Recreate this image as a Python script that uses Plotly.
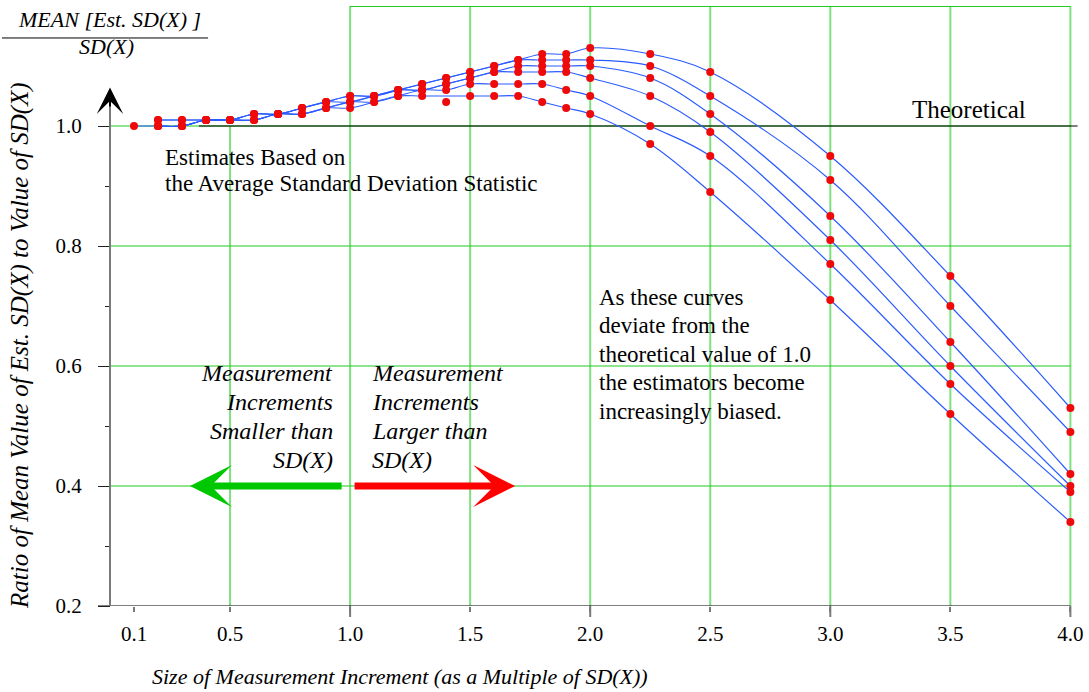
import plotly.graph_objects as go

# ---------------- data ----------------
X = [0.1, 0.2, 0.3, 0.4, 0.5, 0.6, 0.7, 0.8, 0.9, 1.0, 1.1, 1.2, 1.3, 1.4, 1.5,
     1.6, 1.7, 1.8, 1.9, 2.0, 2.25, 2.5, 3.0, 3.5, 4.0]
N = None
curve_a = [N, 1.01, 1.01, 1.01, 1.01, 1.02, 1.02, 1.03, 1.04, 1.05, 1.05, 1.06, 1.07, 1.08, 1.09,
           1.10, 1.11, 1.12, 1.12, 1.13, 1.12, 1.09, 0.95, 0.75, 0.53]
curve_b = [N, 1.01, 1.01, 1.01, 1.01, 1.02, 1.02, 1.03, 1.04, 1.05, 1.05, 1.06, 1.07, 1.08, 1.09,
           1.10, 1.11, 1.11, 1.11, 1.11, 1.10, 1.05, 0.91, 0.70, 0.49]
curve_c = [N, 1.00, 1.00, 1.01, 1.01, 1.02, 1.02, 1.03, 1.04, 1.04, 1.05, 1.06, 1.06, 1.07, 1.08,
           1.09, 1.10, 1.10, 1.10, 1.10, 1.08, 1.02, 0.85, 0.64, 0.42]
curve_d = [N, 1.00, 1.00, 1.01, 1.01, 1.01, 1.02, 1.02, 1.03, 1.04, 1.05, 1.06, 1.06, 1.07, 1.08,
           1.09, 1.09, 1.09, 1.09, 1.08, 1.05, 0.99, 0.81, 0.60, 0.40]
curve_e = [N, 1.00, 1.00, 1.01, 1.01, 1.01, 1.02, 1.02, 1.03, 1.04, 1.04, 1.05, 1.06, 1.06, 1.07,
           1.07, 1.07, 1.07, 1.06, 1.05, 1.00, 0.95, 0.77, 0.57, 0.39]
curve_f = [1.00, 1.00, 1.00, 1.01, 1.01, 1.01, 1.02, 1.02, 1.03, 1.03, 1.04, 1.05, 1.05, N, 1.05,
           1.05, 1.05, 1.04, 1.03, 1.02, 0.97, 0.89, 0.71, 0.52, 0.34]
curves = [curve_a, curve_b, curve_c, curve_d, curve_e, curve_f]

extra_x = [1.4]
extra_y = [1.04]

x_tick_vals = [0.1, 0.5, 1.0, 1.5, 2.0, 2.5, 3.0, 3.5, 4.0]
x_tick_text = ["0.1", "0.5", "1.0", "1.5", "2.0", "2.5", "3.0", "3.5", "4.0"]
x_long_ticks = [1.0, 2.0, 3.0, 4.0]
y_tick_vals = [0.2, 0.4, 0.6, 0.8, 1.0]
y_tick_text = ["0.2", "0.4", "0.6", "0.8", "1.0"]
y_minor_vals = [0.3, 0.5, 0.7, 0.9]

v_grid_full = [1.0, 1.5, 2.0, 2.5, 3.0, 3.5, 4.0]
v_grid_short = [0.5]
h_grid = [0.4, 0.6, 0.8, 1.0]
theoretical = 1.0

# ---------------- styles ----------------
FONT = "Liberation Serif"
BLUE = "#2a5cff"
RED = "#ee0a0a"
GRID_V = "#7fe07f"
GRID_H = "#1fcc1f"
X_MIN, X_MAX = -0.05, 4.04
Y_MIN, Y_MAX = 0.2, 1.2

fig = go.Figure()

for cy in curves:
    fig.add_trace(go.Scatter(x=X, y=cy, mode="lines", connectgaps=True,
                             line=dict(color=BLUE, width=1.2, shape="spline", smoothing=1.0),
                             hoverinfo="skip"))
for cy in curves:
    xs = [x for x, v in zip(X, cy) if v is not None]
    ys = [v for v in cy if v is not None]
    fig.add_trace(go.Scatter(x=xs, y=ys, mode="markers",
                             marker=dict(color=RED, size=8, line=dict(width=0))))
fig.add_trace(go.Scatter(x=extra_x, y=extra_y, mode="markers",
                         marker=dict(color=RED, size=8, line=dict(width=0))))

shapes = []
for v in v_grid_full:
    shapes.append(dict(type="line", xref="x", yref="y", x0=v, x1=v, y0=Y_MIN, y1=Y_MAX,
                       line=dict(color=GRID_V, width=2), layer="below"))
for v in v_grid_short:
    shapes.append(dict(type="line", xref="x", yref="y", x0=v, x1=v, y0=Y_MIN, y1=theoretical,
                       line=dict(color=GRID_V, width=2), layer="below"))
for h in h_grid:
    shapes.append(dict(type="line", xref="x", yref="y", x0=0, x1=4.0, y0=h, y1=h,
                       line=dict(color=GRID_H, width=1.2), layer="below"))
shapes.append(dict(type="line", xref="x", yref="y", x0=1.0, x1=4.0, y0=Y_MAX, y1=Y_MAX,
                   line=dict(color=GRID_H, width=2), layer="below"))
shapes.append(dict(type="line", xref="x", yref="y", x0=0.37, x1=4.03, y0=theoretical, y1=theoretical,
                   line=dict(color="black", width=1.2), layer="below"))
# axes
shapes.append(dict(type="line", xref="x", yref="y", x0=X_MIN, x1=4.0, y0=Y_MIN, y1=Y_MIN,
                   line=dict(color="black", width=1.2)))
shapes.append(dict(type="line", xref="x", yref="y", x0=0, x1=0, y0=Y_MIN, y1=1.045,
                   line=dict(color="#7a7a7a", width=2)))
for v in x_long_ticks:
    shapes.append(dict(type="line", xref="x", yref="paper", x0=v, x1=v, y0=0, y1=-11 / 600,
                       line=dict(color="#7a7a7a", width=2)))
# fraction bar of the top-left label
shapes.append(dict(type="line", xref="paper", yref="paper", x0=-0.0978, x1=0.1121,
                   y0=0.9467, y1=0.9467, line=dict(color="black", width=1)))

ann = []
# y axis arrow head
ann.append(dict(x=0, y=1.064, ax=0, ay=1.03, xref="x", yref="y", axref="x", ayref="y",
                text="", showarrow=True, arrowhead=3, arrowsize=2.2, arrowwidth=2,
                arrowcolor="black", standoff=0))
# big arrows
ann.append(dict(x=0.333, y=0.4, ax=0.971, ay=0.4, xref="x", yref="y", axref="x", ayref="y",
                text="", showarrow=True, arrowhead=3, arrowsize=1.0, arrowwidth=7,
                arrowcolor="#00c800", standoff=0))
ann.append(dict(x=1.6875, y=0.4, ax=1.0125, ay=0.4, xref="x", yref="y", axref="x", ayref="y",
                text="", showarrow=True, arrowhead=3, arrowsize=1.0, arrowwidth=7,
                arrowcolor="#ff0000", standoff=0))


def px_to_y(py):
    return Y_MIN + (606 - py) / 600.0


def px_to_x(px):
    return (px - 98) / 240.0 + X_MIN


def text_lines(lines, x, y0px, step, anchor, size, italic):
    for i, t in enumerate(lines):
        ann.append(dict(x=x, y=px_to_y(y0px + i * step), xref="x", yref="y", text=t,
                        showarrow=False, xanchor=anchor, yanchor="middle",
                        font=dict(family=FONT, size=size, color="black",
                                  style="italic" if italic else "normal")))


text_lines(["Theoretical"], px_to_x(910), 109, 0, "left", 25, False)
text_lines(["Estimates Based on", "the Average Standard Deviation Statistic"],
           px_to_x(163), 157, 26, "left", 23, False)
text_lines(["As these curves", "deviate from the", "theoretical value of 1.0",
            "the estimators become", "increasingly biased."],
           px_to_x(597), 297, 28.5, "left", 23, False)
text_lines(["Measurement", "Increments", "Smaller than", "SD(X)"],
           px_to_x(335), 373, 29, "right", 24, True)
text_lines(["Measurement", "Increments", "Larger than", "SD(X)"],
           px_to_x(370), 373, 29, "left", 24, True)

# top-left fraction label
ann.append(dict(x=0.0122, y=0.977, xref="paper", yref="paper", text="MEAN [Est. SD(X) ]",
                showarrow=False, xanchor="center", yanchor="middle",
                font=dict(family=FONT, size=22, color="black", style="italic")))
ann.append(dict(x=0.009, y=0.933, xref="paper", yref="paper", text="SD(X)",
                showarrow=False, xanchor="center", yanchor="middle",
                font=dict(family=FONT, size=22, color="black", style="italic")))
# axis titles
ann.append(dict(x=-0.0795, y=0.435, xref="paper", yref="paper",
                text="Ratio of Mean Value of Est. SD(X) to Value of SD(X)", textangle=-90,
                showarrow=False, xanchor="center", yanchor="middle",
                font=dict(family=FONT, size=25, color="black", style="italic")))
ann.append(dict(x=0.3077, y=-0.118, xref="paper", yref="paper",
                text="Size of Measurement Increment (as a Multiple of SD(X))",
                showarrow=False, xanchor="center", yanchor="middle",
                font=dict(family=FONT, size=22, color="black", style="italic")))

fig.update_layout(
    width=1089, height=692,
    margin=dict(l=98, r=1089 - 98 - 981.6, t=6, b=86, pad=0),
    paper_bgcolor="white", plot_bgcolor="white",
    showlegend=False,
    shapes=shapes, annotations=ann,
    xaxis=dict(range=[X_MIN, X_MAX], showgrid=False, zeroline=False, showline=False,
               tickmode="array", tickvals=x_tick_vals, ticktext=x_tick_text,
               ticks="outside", ticklen=5, tickwidth=2, tickcolor="#7a7a7a",
               ticklabelstandoff=4,
               tickfont=dict(family=FONT, size=21, color="black")),
    yaxis=dict(range=[Y_MIN, Y_MAX], showgrid=False, zeroline=False, showline=False,
               anchor="free", position=(0 - X_MIN) / (X_MAX - X_MIN),
               tickmode="array", tickvals=y_tick_vals, ticktext=y_tick_text,
               ticks="outside", ticklen=12, tickwidth=1.2, tickcolor="#222",
               ticklabelstandoff=12,
               minor=dict(tickmode="array", tickvals=y_minor_vals, ticks="outside",
                          ticklen=5, tickwidth=1.2, tickcolor="#222"),
               tickfont=dict(family=FONT, size=21, color="black")),
)

fig.write_html("out.html", config={"displayModeBar": False},
               post_script="document.body.style.margin='0';")
